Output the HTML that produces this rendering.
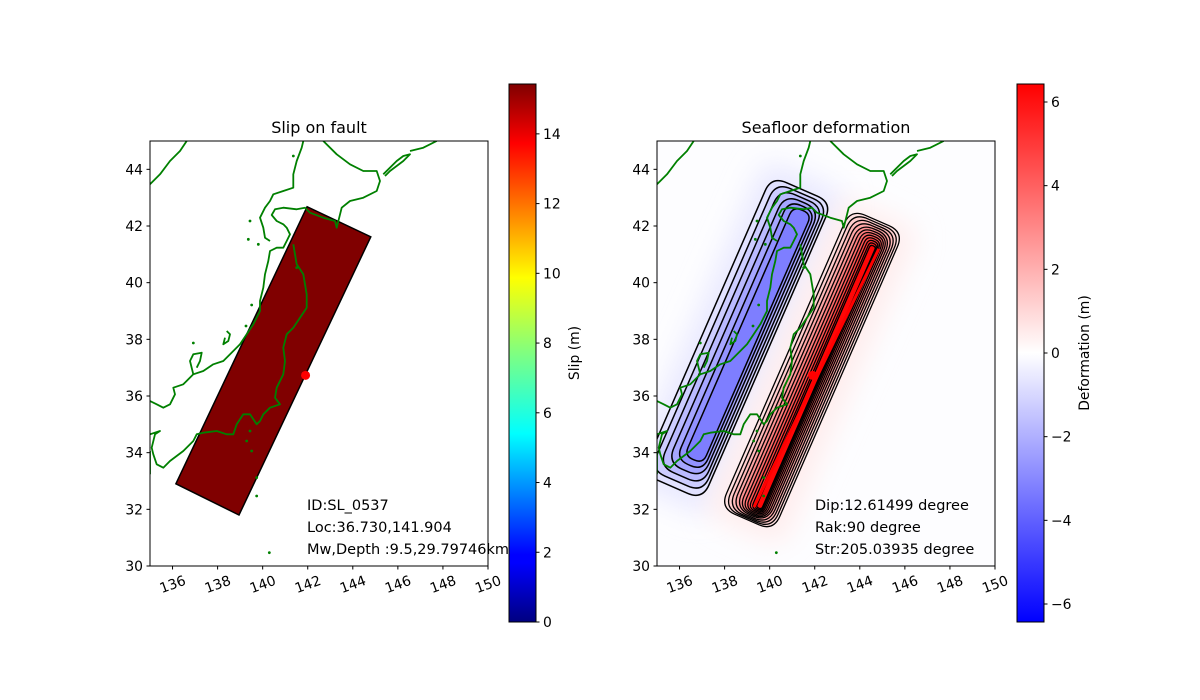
<!DOCTYPE html>
<html><head><meta charset="utf-8"><style>
body{margin:0;background:#fff;}
svg{display:block;font-family:"DejaVu Sans","Liberation Sans",sans-serif;}
</style></head><body>
<svg id="fig" width="1200" height="700" viewBox="0 0 1200 700" xmlns="http://www.w3.org/2000/svg">
<defs>
<linearGradient id="jet" x1="0" y1="1" x2="0" y2="0">
<stop offset="0" stop-color="#000080"/><stop offset="0.11" stop-color="#0000ff"/><stop offset="0.125" stop-color="#0000ff"/>
<stop offset="0.35" stop-color="#00ffff"/><stop offset="0.5" stop-color="#80ff80"/><stop offset="0.64" stop-color="#ffff00"/>
<stop offset="0.89" stop-color="#ff0000"/><stop offset="1" stop-color="#800000"/>
</linearGradient>
<linearGradient id="bwr" x1="0" y1="1" x2="0" y2="0">
<stop offset="0" stop-color="#0000ff"/><stop offset="0.5" stop-color="#ffffff"/><stop offset="1" stop-color="#ff0000"/>
</linearGradient>
<clipPath id="clipL"><rect x="150" y="141" width="338" height="425"/></clipPath>
<clipPath id="clipR"><rect x="657" y="141" width="338" height="425"/></clipPath>
<filter id="blur" x="-50%" y="-50%" width="200%" height="200%"><feGaussianBlur stdDeviation="14"/></filter>
</defs>
</svg>
<script>
// ---- data ----
const lonTicks=[136,138,140,142,144,146,148,150];
const latTicks=[30,32,34,36,38,40,42,44];
const slipTicks=[0,2,4,6,8,10,12,14];
const defTicks=[-6,-4,-2,0,2,4,6];
const slipMax=15.43;
const defMax=6.43;
const faultLon=[136.15,138.95,144.8,141.97];
const faultLat=[32.9,31.8,41.62,42.68];
const epiLon=141.904, epiLat=36.730;
const negLevels=[-0.5,-1.0,-1.5,-2.0,-2.5,-3.0];
const posLevels=[0.5,1,1.5,2,2.5,3,3.5,4,4.5,5,5.5,6];
const leftLines=["ID:SL_0537","Loc:36.730,141.904","Mw,Depth :9.5,29.79746km"];
const rightLines=["Dip:12.61499 degree","Rak:90 degree","Str:205.03935 degree"];

const NS="http://www.w3.org/2000/svg";
const svg=document.getElementById('fig');
function mk(tag,attrs,parent){const e=document.createElementNS(NS,tag);for(const k in attrs)e.setAttribute(k,attrs[k]);(parent||svg).appendChild(e);return e;}
const AX=[{x0:150},{x0:657}];
const Y0=141,W=338,H=425;
function sx(ax,lon){return AX[ax].x0+(lon-135)/15*W;}
function sy(lat){return Y0+H-(lat-30)/15*H;}

const coasts=[
[[0,780],[20,790],[40,800],[60,790],[75,760],[70,740],[100,730],[130,700],[160,690],[190,670],[220,660],[250,630],[270,610],[290,580],[310,550],[330,510],[330,480],[340,440],[345,400],[355,360],[360,330],[380,320],[400,320],[410,300],[420,280],[410,260],[400,250],[380,240],[365,222],[375,205],[400,200],[440,205],[465,200],[480,215],[520,230],[555,240],[560,260],[575,200],[600,180],[640,170],[680,150],[690,120],[680,90],[640,90],[600,70],[560,40],[520,0]],
[[430,310],[440,370],[460,400],[470,460],[470,500],[450,530],[430,560],[410,580],[400,620],[405,660],[400,700],[380,740],[375,770],[390,790],[360,800],[340,820],[330,840],[320,850],[300,820],[280,820],[260,850],[250,880],[230,880],[200,870],[160,875],[140,880],[130,900],[100,930],[60,960],[40,980],[20,970],[10,940],[5,920],[15,880],[30,870],[0,880]],
[[360,300],[345,290],[340,260],[330,230],[345,200],[360,180],[370,160],[400,150],[430,140],[430,100],[440,60],[455,20],[460,0]],
[[700,100],[740,60],[760,45],[780,40],[760,60],[720,90],[705,105]],
[[780,30],[820,20],[860,0]],
[[0,130],[30,100],[60,60],[90,30],[110,0]],
[[0,1000],[0,930]],
[[130,700],[120,660],[130,640],[155,635],[150,660],[140,680]],
[[230,570],[240,580],[235,600],[220,610],[225,590]]
];
const dots=[[320,1010],[320,1065],[358,1235],[300,870],[305,930],[290,900],[130,606],[300,240],[295,295],[325,310],[305,492],[288,555],[440,380],[430,45]];

function drawCoast(ax){
  const clip=ax?'url(#clipR)':'url(#clipL)';
  const g=mk('g',{'clip-path':clip});
  
  
  coasts.forEach(c=>{
    const d=c.map((p,i)=>(i?'L':'M')+(AX[ax].x0+p[0]/3).toFixed(1)+' '+(Y0+p[1]/3).toFixed(1)).join(' ');
    const p=mk('path',{d:d,fill:'none',stroke:'#008000','stroke-width':1.8,'stroke-linejoin':'round'},g);
    
    
  });
  dots.forEach(q=>{const c=mk('circle',{cx:AX[ax].x0+q[0]/3,cy:Y0+q[1]/3,r:1.4,fill:'#008000'},g);
    });
}

function drawAxes(ax,title){
  const x0=AX[ax].x0;
  const fr=mk('rect',{x:x0,y:Y0,width:W,height:H,fill:'none',stroke:'#000','stroke-width':1});
  
  
  lonTicks.forEach(v=>{
    const x=sx(ax,v);
    mk('line',{x1:x,y1:Y0+H,x2:x,y2:Y0+H+3.5,stroke:'#000'});
    const t=mk('text',{x:x,y:589,'font-size':13.9,'text-anchor':'middle',transform:`rotate(-20 ${x} 584)`});
    t.textContent=v;
    
    
  });
  latTicks.forEach(v=>{
    const y=sy(v);
    mk('line',{x1:x0,y1:y,x2:x0-3.5,y2:y,stroke:'#000'});
    const t=mk('text',{x:x0-7,y:y+5,'font-size':13.9,'text-anchor':'end'});
    t.textContent=v;
    
    
  });
  const tt=mk('text',{x:x0+W/2,y:133,'font-size':16,'text-anchor':'middle'});
  tt.textContent=title;
  
  
}

function drawColorbar(x,grad,ticks,vmin,vmax,label,name){
  const top=84,bot=622;
  const r=mk('rect',{x:x,y:top,width:27,height:bot-top,fill:`url(#${grad})`,stroke:'#000','stroke-width':1});
  
  
  ticks.forEach(v=>{
    const y=bot-(v-vmin)/(vmax-vmin)*(bot-top);
    mk('line',{x1:x+27,y1:y,x2:x+30.5,y2:y,stroke:'#000'});
    const t=mk('text',{x:x+34,y:y+5,'font-size':13.9});
    t.textContent=v<0?'\u2212'+(-v):v;
    
    
  });
  const lx=x+(grad==='jet'?70:72),ly=(top+bot)/2;
  const t=mk('text',{x:lx,y:ly,'font-size':13.9,'text-anchor':'middle',transform:`rotate(-90 ${lx} ${ly})`});
  t.textContent=label;
  
  
}

function textBlock(x,lines,name){
  lines.forEach((s,i)=>{
    const t=mk('text',{x:x,y:510+i*22,'font-size':14.5});
    t.textContent=s;
    
    
  });
}

// ---- left panel ----
const fpts=faultLon.map((lo,i)=>sx(0,lo).toFixed(1)+','+sy(faultLat[i]).toFixed(1)).join(' ');
const fault=mk('polygon',{points:fpts,fill:'#800000',stroke:'#000','stroke-width':1.5,'clip-path':'url(#clipL)'});


drawCoast(0);
const e1=mk('circle',{cx:sx(0,epiLon),cy:sy(epiLat),r:4.5,fill:'#ff0000'});


drawAxes(0,'Slip on fault');
textBlock(307,leftLines,'info-left');
drawColorbar(509,'jet',slipTicks,0,slipMax,'Slip (m)','slip-colorbar');

// ---- right panel ----
const u=[0.40,-0.917], w=[0.917,0.40];
function lobePath(c,L,a){
  const P=[[-L,-a],[-L,a],[L,a],[L,-a]].map(([s,t])=>[c[0]+s*u[0]+t*w[0],c[1]+s*u[1]+t*w[1]]);
  const r=Math.min(a*0.9,16);
  let d='';
  for(let i=0;i<4;i++){
    const p=P[i],pr=P[(i+3)%4],pn=P[(i+1)%4];
    const d1=Math.hypot(pr[0]-p[0],pr[1]-p[1]),d2=Math.hypot(pn[0]-p[0],pn[1]-p[1]);
    const a1=[p[0]+(pr[0]-p[0])*r/d1,p[1]+(pr[1]-p[1])*r/d1];
    const a2=[p[0]+(pn[0]-p[0])*r/d2,p[1]+(pn[1]-p[1])*r/d2];
    d+=(i?'L':'M')+a1[0].toFixed(1)+' '+a1[1].toFixed(1)+' Q'+p[0].toFixed(1)+' '+p[1].toFixed(1)+' '+a2[0].toFixed(1)+' '+a2[1].toFixed(1)+' ';
  }
  return d+'Z';
}
function bwr(v){const f=Math.min(1,Math.abs(v)/defMax);const c=Math.round(255*(1-f));return v<0?`rgb(${c},${c},255)`:`rgb(255,${c},${c})`;}
const gR=mk('g',{'clip-path':'url(#clipR)'});


mk('rect',{x:657,y:141,width:338,height:425,fill:'#fdfdff'},gR);
const h1=mk('path',{d:lobePath([737,338],175,45),fill:'rgb(232,232,255)',filter:'url(#blur)'},gR);

const h2=mk('path',{d:lobePath([812,372],172,42),fill:'rgb(255,236,236)',filter:'url(#blur)'},gR);

negLevels.forEach((v,i)=>{
  const f=i/(negLevels.length-1);
  const c=[737+11*f,338-3*f],L=162-26*f,a=33-23*f;
  const p=mk('path',{d:lobePath(c,L,a),fill:bwr(v-0.25),stroke:'#000','stroke-width':1.5},gR);
  
  
});
posLevels.forEach((v,i)=>{
  const f=i/(posLevels.length-1);
  const c=[812+4*f,370+7*f],L=163-20*f,a=3+26*Math.pow(1-f,1.3);
  const p=mk('path',{d:lobePath(c,L,a),fill:bwr(v+0.25),stroke:'#000','stroke-width':1.3},gR);
  
  
});
const tl=mk('line',{x1:sx(1,faultLon[1])+8,y1:sy(faultLat[1])-8,x2:sx(1,faultLon[2])+1,y2:sy(faultLat[2])+12,stroke:'#ff0000','stroke-width':3},gR);


drawCoast(1);
const e2=mk('circle',{cx:sx(1,epiLon),cy:sy(epiLat),r:4.5,fill:'#ff0000'});


drawAxes(1,'Seafloor deformation');
textBlock(815,rightLines,'info-right');
drawColorbar(1017,'bwr',defTicks,-defMax,defMax,'Deformation (m)','deformation-colorbar');
</script>
</body></html>
